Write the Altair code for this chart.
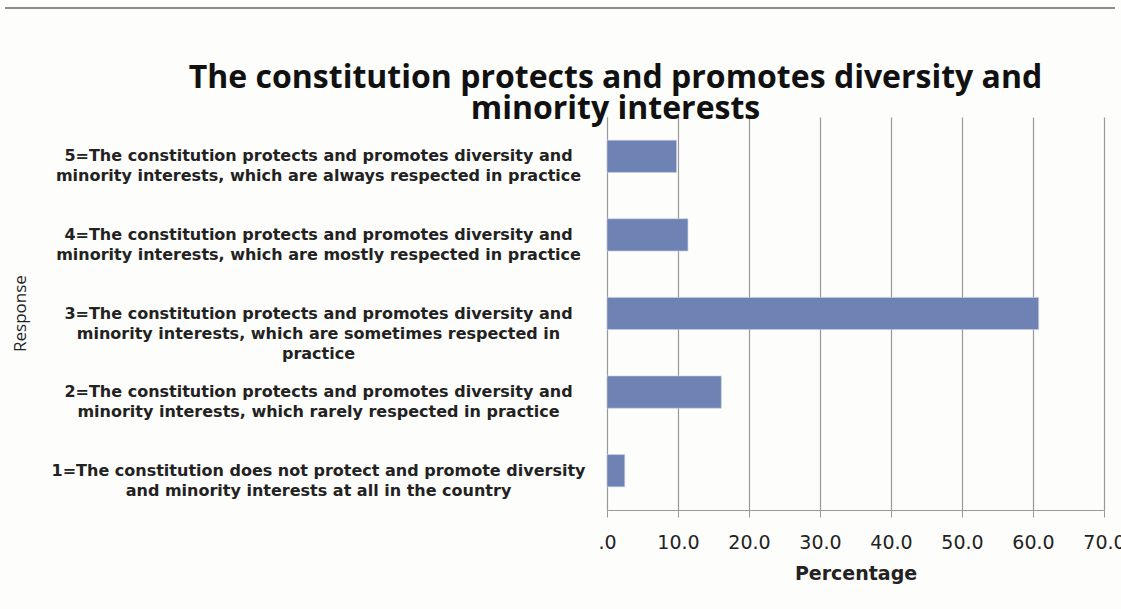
import altair as alt
import pandas as pd

responses = [
    "5=The constitution protects and promotes diversity and|minority interests, which  are always respected in practice",
    "4=The constitution protects and promotes diversity and|minority interests, which  are mostly respected in practice",
    "3=The constitution protects and promotes diversity and|minority interests, which  are sometimes respected in|practice",
    "2=The constitution protects and promotes diversity and|minority interests, which  rarely respected in practice",
    "1=The constitution does not protect and promote diversity|and minority interests  at all in the country",
]
percentages = [9.8, 11.4, 60.8, 16.1, 2.5]
x_ticks = [0, 10, 20, 30, 40, 50, 60, 70]
title_lines = ["The constitution protects and promotes diversity and", "minority interests"]

df = pd.DataFrame({"response": responses, "pct": percentages})

bars = alt.Chart(df).mark_bar(color="#6e83b3", stroke="#c9d1e3", strokeWidth=0.6).encode(
    y=alt.Y(
        "response:N",
        sort=responses,
        scale=alt.Scale(paddingInner=0.59, paddingOuter=0.295),
        axis=alt.Axis(
            title="Response",
            labelExpr="split(datum.label, '|')",
            labelAlign="center",
            labelBaseline="middle",
            labelPadding=289,
            ticks=False,
            tickSize=0,
            labelFont="DejaVu Sans",
            labelFontWeight="bold",
            labelFontSize=16,
            labelLineHeight=20,
            labelColor="#222222",
            labelLimit=0,
            domainColor="#999999",
            titleX=-587,
            titleY=196,
            titleAngle=270,
            titleBaseline="middle",
            titleFont="Open Sans",
            titleFontSize=17,
            titleFontWeight="normal",
            titleColor="#222222",
        ),
    ),
    x=alt.X(
        "pct:Q",
        scale=alt.Scale(domain=[0, 70], nice=False),
        axis=alt.Axis(
            values=x_ticks,
            labelExpr="datum.value == 0 ? '.0' : format(datum.value, '.1f')",
            labelFlush=False,
            title="Percentage",
            grid=True,
            gridColor="#999999",
            gridWidth=1.2,
            domainColor="#999999",
            tickColor="#999999",
            tickSize=7,
            labelFont="DejaVu Sans",
            labelFontSize=19,
            labelColor="#222222",
            labelPadding=16,
            titleFont="DejaVu Sans",
            titleFontWeight="bold",
            titleFontSize=19,
            titleColor="#222222",
            titlePadding=12,
        ),
    ),
)

top_rule = alt.Chart(df).mark_rule(color="#8a8a8a", strokeWidth=2).encode(
    x=alt.value(-602), x2=alt.value(508), y=alt.value(-109)
)

chart = alt.layer(bars, top_rule).properties(
    width=497,
    height=393,
    autosize=alt.AutoSizeParams(type="none"),
    padding={"left": 607, "top": 117, "right": 17, "bottom": 99},
    title=alt.TitleParams(
        text=title_lines,
        font="Open Sans",
        fontSize=32,
        fontWeight="bold",
        color="#111111",
        anchor="middle",
        frame="group",
        dx=-240,
        dy=119,
        offset=0,
        lineHeight=31,
    ),
).configure(background="#fdfdfb").configure_view(stroke=None)

chart.save("out.html", embed_options={"renderer": "svg", "actions": False})
